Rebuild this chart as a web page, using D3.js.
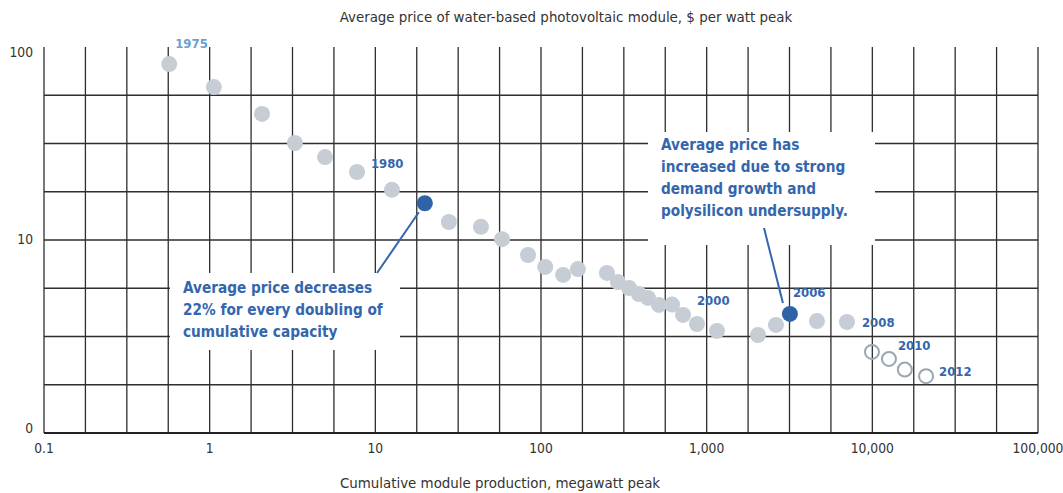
<!DOCTYPE html>
<html>
<head>
<meta charset="utf-8">
<script src="https://cdn.jsdelivr.net/npm/d3@7"></script>
<style>
  body { margin: 0; background: #fff; }
  text { font-family: "DejaVu Sans Condensed", "DejaVu Sans", sans-serif; }
</style>
</head>
<body>
<div id="chart"></div>
<script>
// cumulative module production (MWp) and average module price ($/Wp)
const production = [0.57, 1.06, 2.07, 3.27, 4.97, 7.75, 12.6, 19.9, 27.8, 43.4, 58.2, 83.5, 106, 136, 167,
  250, 291, 340, 390, 442, 515, 618, 720, 874, 1154, 2040, 2620, 3180, 4630, 7030,
  9950, 12600, 15700, 21100];
const price = [81.6, 62.0, 45.0, 31.8, 26.9, 22.5, 18.2, 15.5, 12.4, 11.7, 10.1, 8.36, 7.25, 6.59, 7.07,
  6.75, 6.06, 5.64, 5.25, 5.01, 4.61, 4.63, 4.09, 3.67, 3.38, 3.22, 3.63, 4.14, 3.80, 3.76,
  2.63, 2.42, 2.13, 1.97];
// "past" = grey dot, "key" = highlighted dot, "est" = open circle
const pointKind = ["past", "past", "past", "past", "past", "past", "past", "key", "past", "past", "past", "past", "past", "past", "past",
  "past", "past", "past", "past", "past", "past", "past", "past", "past", "past", "past", "past", "key", "past", "past",
  "est", "est", "est", "est"];

const yearLabels = ["1975", "1980", "2000", "2006", "2008", "2010", "2012"];
const yearLabelPoint = [0, 6, 23, 27, 29, 31, 33];

const xTicks = [0.1, 1, 10, 100, 1000, 10000, 100000];
const xTickLabels = ["0.1", "1", "10", "100", "1,000", "10,000", "100,000"];
const yTicks = [1, 10, 100];
const yTickLabels = ["0", "10", "100"];

const noteDecrease = ["Average price decreases", "22% for every doubling of", "cumulative capacity"];
const noteIncrease = ["Average price has", "increased due to strong", "demand growth and", "polysilicon undersupply."];

const width = 1063, height = 493;
const svg = d3.select("#chart").append("svg").attr("width", width).attr("height", height);

const x = d3.scaleLog().domain([0.1, 100000]).range([44, 1038]);
const y = d3.scaleLog().domain([1, 100]).range([433, 47]);

const gridColor = "#2e2e2e";
const blue = "#3466ad";

// grid: four lines per decade on both axes
const xGrid = d3.range(-4, 21).map(k => Math.pow(10, k / 4));
const yGrid = d3.range(1, 8).map(k => Math.pow(10, k / 4));

svg.append("g").selectAll("line")
  .data(xGrid)
  .enter().append("line")
  .attr("x1", d => x(d)).attr("x2", d => x(d))
  .attr("y1", y(100)).attr("y2", y(1))
  .attr("stroke", gridColor).attr("stroke-width", 1.3);

svg.append("g").selectAll("line")
  .data(yGrid)
  .enter().append("line")
  .attr("x1", x(0.1)).attr("x2", x(100000))
  .attr("y1", d => y(d)).attr("y2", d => y(d))
  .attr("stroke", gridColor).attr("stroke-width", 1.3);

// bottom axis line
svg.append("line")
  .attr("x1", x(0.1)).attr("x2", x(100000))
  .attr("y1", y(1)).attr("y2", y(1))
  .attr("stroke", "#222").attr("stroke-width", 2);

// tick labels
svg.append("g").selectAll("text")
  .data(xTicks)
  .enter().append("text")
  .attr("x", d => x(d))
  .attr("y", 453)
  .attr("text-anchor", "middle")
  .attr("font-size", "13.7px")
  .attr("fill", "#333")
  .text((d, i) => xTickLabels[i]);

const yLabelDy = [0, 4, 10];
svg.append("g").selectAll("text")
  .data(yTicks)
  .enter().append("text")
  .attr("x", 33)
  .attr("y", (d, i) => y(d) + yLabelDy[i])
  .attr("text-anchor", "end")
  .attr("font-size", "13.7px")
  .attr("fill", "#333")
  .text((d, i) => yTickLabels[i]);

// axis titles
svg.append("text")
  .attr("x", 566).attr("y", 22)
  .attr("text-anchor", "middle")
  .attr("font-size", "14.9px")
  .attr("fill", "#333")
  .text("Average price of water-based photovoltaic module, $ per watt peak");

svg.append("text")
  .attr("x", 500).attr("y", 488)
  .attr("text-anchor", "middle")
  .attr("font-size", "14.9px")
  .attr("fill", "#333")
  .text("Cumulative module production, megawatt peak");

// annotation boxes knock out the grid
function note(lines, bx, by, bw, bh, tx, ty) {
  svg.append("rect")
    .attr("x", bx).attr("y", by).attr("width", bw).attr("height", bh)
    .attr("fill", "#fff");
  const t = svg.append("text")
    .attr("font-size", "15.2px")
    .attr("font-weight", "bold")
    .attr("fill", blue);
  lines.forEach((line, i) => {
    t.append("tspan").attr("x", tx).attr("y", ty + i * 22).text(line);
  });
}
note(noteDecrease, 170, 273, 230, 77, 183, 293);
note(noteIncrease, 648, 132, 227, 113, 661, 150);

// pointer lines
svg.append("line")
  .attr("x1", 377).attr("y1", 273)
  .attr("x2", x(production[7]) - 6).attr("y2", y(price[7]) + 9)
  .attr("stroke", blue).attr("stroke-width", 2);
svg.append("line")
  .attr("x1", 764).attr("y1", 228)
  .attr("x2", x(production[27]) - 7).attr("y2", y(price[27]) - 11)
  .attr("stroke", blue).attr("stroke-width", 2);

// data points
const points = production.map((p, i) => ({ p, v: price[i], kind: pointKind[i] }));

svg.append("g").selectAll("circle")
  .data(points)
  .enter().append("circle")
  .attr("cx", d => x(d.p))
  .attr("cy", d => y(d.v))
  .attr("r", d => d.kind === "est" ? 7 : 8)
  .attr("fill", d => d.kind === "past" ? "#c6cdd4" : d.kind === "key" ? "#2f63a8" : "none")
  .attr("stroke", d => d.kind === "est" ? "#9aa7b0" : "none")
  .attr("stroke-width", 2);

// year labels, offset from their points
const labelDx = [6, -21, 0, 3, 15, 9, 13];
const labelDy = [-16, -22, -19, -17, 5, -9, 0];
svg.append("g").selectAll("text")
  .data(yearLabels)
  .enter().append("text")
  .attr("x", (d, i) => x(production[yearLabelPoint[i]]) + labelDx[i])
  .attr("y", (d, i) => y(price[yearLabelPoint[i]]) + labelDy[i])
  .attr("font-family", "'Liberation Sans', Arial, sans-serif")
  .attr("font-size", "13px")
  .attr("font-weight", "bold")
  .attr("fill", (d, i) => i === 0 ? "#6aa0d2" : blue)
  .text(d => d);
</script>
</body>
</html>
